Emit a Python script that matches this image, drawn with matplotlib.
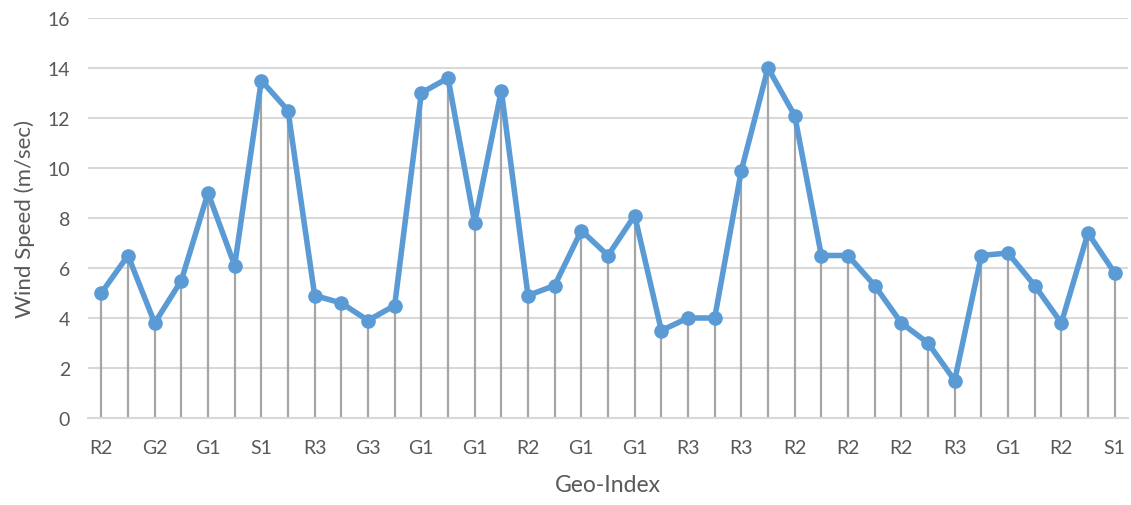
import numpy as np
import matplotlib
matplotlib.use("Agg")
import matplotlib.pyplot as plt

# Wind speed per site along the transect (m/sec)
wind_speed = [5.0, 6.5, 3.8, 5.5, 9.0, 6.1, 13.5, 12.3, 4.9, 4.6,
              3.9, 4.5, 13.0, 13.6, 7.8, 13.1, 4.9, 5.3, 7.5, 6.5,
              8.1, 3.5, 4.0, 4.0, 9.9, 14.0, 12.1, 6.5, 6.5, 5.3,
              3.8, 3.0, 1.5, 6.5, 6.6, 5.3, 3.8, 7.4, 5.8]

# Geo-index labels, shown for every second site
geo_labels = ["R2", "G2", "G1", "S1", "R3", "G3", "G1", "G1", "R2", "G1",
              "G1", "R3", "R3", "R2", "R2", "R2", "R3", "G1", "R2", "S1"]

y_ticks = [0, 2, 4, 6, 8, 10, 12, 14, 16]

plt.rcParams['font.family'] = ['Lato', 'DejaVu Sans']

line_color = "#5B9BD5"
drop_color = "#A5A5A5"
grid_color = "#D9D9D9"
text_color = "#595959"

fig = plt.figure(figsize=(11.31, 5.06), dpi=100)
ax = fig.add_axes([88 / 1131, 87 / 506, 1040 / 1131, 400 / 506])

x = np.arange(len(wind_speed))

ax.vlines(x, 0, wind_speed, color=drop_color, linewidth=1.6, zorder=2)
ax.plot(x, wind_speed, color=line_color, linewidth=4.0, marker="o",
        markersize=9.5, markerfacecolor=line_color, markeredgecolor=line_color,
        solid_joinstyle="round", zorder=3)

ax.set_xlim(-0.5, len(wind_speed) - 0.5)
ax.set_ylim(0, 16)
ax.set_yticks(y_ticks)
ax.set_xticks(x[::2])
ax.set_xticklabels(geo_labels)

ax.yaxis.grid(True, color=grid_color, linewidth=1.5)
ax.set_axisbelow(True)
for side in ("top", "right", "left"):
    ax.spines[side].set_visible(False)
ax.spines["bottom"].set_color(grid_color)
ax.spines["bottom"].set_linewidth(1.5)

ax.tick_params(axis="both", length=0, labelsize=14, colors=text_color)
ax.tick_params(axis="y", pad=13)
ax.tick_params(axis="x", pad=15)

ax.set_ylabel("Wind Speed (m/sec)", fontsize=16, color=text_color, labelpad=9)
ax.set_xlabel("Geo-Index", fontsize=16.5, color=text_color, labelpad=13)

fig.savefig("out.png", dpi=100, facecolor="white")
